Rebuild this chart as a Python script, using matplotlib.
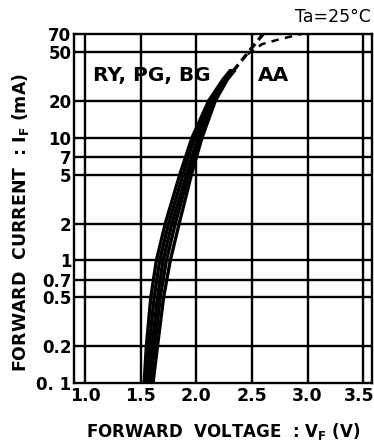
import matplotlib.pyplot as plt
from matplotlib.transforms import ScaledTranslation

plt.rcParams['font.family'] = 'DejaVu Sans'
plt.rcParams['mathtext.default'] = 'bf'

# forward current points (mA) along the solid curves
current = [0.1, 0.2, 0.5, 1, 2, 5, 10, 20, 30, 35]
# forward voltage (V) of each LED sample at those currents
vf_a = [1.53, 1.55, 1.59, 1.64, 1.72, 1.85, 1.96, 2.11, 2.24, 2.30]
vf_b = [1.55, 1.575, 1.62, 1.67, 1.75, 1.88, 1.98, 2.13, 2.25, 2.31]
vf_c = [1.57, 1.60, 1.65, 1.70, 1.78, 1.91, 2.01, 2.14, 2.26, 2.32]
vf_d = [1.59, 1.625, 1.675, 1.73, 1.81, 1.93, 2.03, 2.16, 2.27, 2.33]
vf_e = [1.61, 1.65, 1.705, 1.765, 1.845, 1.955, 2.05, 2.17, 2.28, 2.34]

# dashed continuation of the RY/PG/BG group
ext_i = [35, 43, 53, 70]
ext_v = [2.33, 2.41, 2.49, 2.60]

# AA group (dashed)
aa_i = [48, 58, 64, 70]
aa_v = [2.46, 2.59, 2.76, 2.94]

yticks = [0.1, 0.2, 0.5, 0.7, 1, 2, 5, 7, 10, 20, 50, 70]
ylabels = ["0. 1", "0.2", "0.5", "0.7", "1", "2", "5", "7", "10", "20", "50", "70"]
xticks = [1.0, 1.5, 2.0, 2.5, 3.0, 3.5]
xlabels = ["1.0", "1.5", "2.0", "2.5", "3.0", "3.5"]

fig = plt.figure(figsize=(3.74, 4.43), dpi=100)
ax = fig.add_axes([0.198, 0.135, 0.797, 0.788])

ax.set_yscale('log')
ax.set_xlim(0.9, 3.58)
ax.set_ylim(0.1, 70)

for v in xticks:
    ax.axvline(v, color='black', lw=1.7, zorder=1)
for i in yticks[1:-1]:
    ax.axhline(i, color='black', lw=1.7, zorder=1)

for vf in (vf_a, vf_b, vf_c, vf_d, vf_e):
    ax.plot(vf, current, color='black', lw=2.4, zorder=3,
            solid_joinstyle='round')

ax.plot(ext_v, ext_i, color='black', lw=2.4, ls=(0, (2.5, 1.5)), zorder=3)
ax.plot(aa_v, aa_i, color='black', lw=1.8, ls=(0, (3, 2.5)), zorder=3)

ax.set_yticks(yticks)
ax.set_yticklabels(ylabels)
ax.minorticks_off()
ax.set_xticks(xticks)
ax.set_xticklabels(xlabels)
ax.tick_params(axis='y', length=0, pad=2, labelsize=12)
ax.tick_params(axis='x', length=0, pad=3, labelsize=12.5)
for lab in ax.get_xticklabels() + ax.get_yticklabels():
    lab.set_fontweight('bold')
# keep the last voltage label inside the figure
last = ax.get_xticklabels()[-1]
last.set_transform(last.get_transform() + ScaledTranslation(-4 / 100, 0, fig.dpi_scale_trans))

for sp in ax.spines.values():
    sp.set_linewidth(1.7)

ax.text(0.065, 0.882, "RY, PG, BG", transform=ax.transAxes, fontsize=14.5,
        fontweight='bold', va='center')
ax.text(0.617, 0.882, "AA", transform=ax.transAxes, fontsize=14.5,
        fontweight='bold', va='center')
ax.text(0.995, 1.022, "Ta=25°C", transform=ax.transAxes, fontsize=12.5,
        ha='right', va='bottom')

ax.set_xlabel("FORWARD  VOLTAGE  : V$_F$ (V)", fontsize=12, fontweight='bold',
              labelpad=11)
ax.set_ylabel("FORWARD  CURRENT  : I$_F$ (mA)", fontsize=12.5, fontweight='bold')
ax.yaxis.set_label_coords(-0.145, 0.46)

fig.savefig("out.png", dpi=100)
